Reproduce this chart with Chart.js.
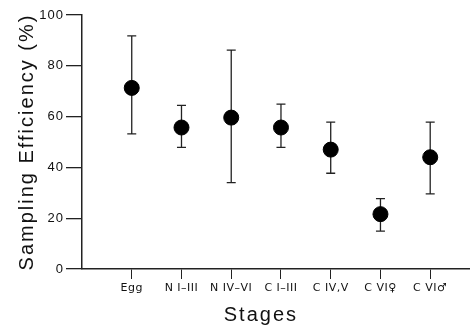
<!DOCTYPE html>
<html>
<head>
<meta charset="utf-8">
<script src="https://cdn.jsdelivr.net/npm/chart.js@4/dist/chart.umd.min.js"></script>
<style>
  html, body { margin: 0; padding: 0; background: #fff; }
  #wrap { width: 470px; height: 328px; }
</style>
</head>
<body>
<div id="wrap"><canvas id="c" width="470" height="328"></canvas></div>
<script>
// ---- Data ----
const categories = ['Egg', 'N I\u2013III', 'N IV\u2013VI', 'C I\u2013III', 'C IV,V', 'C VI\u2640', 'C VI\u2642'];
const efficiency = [71.3, 55.7, 59.6, 55.7, 47.0, 21.6, 44.0];
const upperBound = [91.8, 64.4, 86.2, 64.9, 57.8, 27.7, 57.8];
const lowerBound = [53.2, 47.9, 34.0, 47.9, 37.7, 14.9, 29.6];
const yTickValues = [0, 20, 40, 60, 80, 100];

const canvas = document.getElementById('c');
const ctx = canvas.getContext('2d');

// Wider letter spacing like the original typesetting
const origFillText = ctx.fillText;
ctx.fillText = function (t, x, y, m) {
  const size = parseFloat((this.font.match(/(\d+(\.\d+)?)px/) || [0, 12])[1]);
  this.letterSpacing = size >= 18 ? '2px' : (size >= 13 ? '1px' : '0.5px');
  return m === undefined ? origFillText.call(this, t, x, y) : origFillText.call(this, t, x, y, m);
};

const errorBars = {
  id: 'errorBars',
  beforeDatasetsDraw(chart) {
    const xs = chart.scales.x, ys = chart.scales.y;
    const c = chart.ctx;
    c.save();
    c.strokeStyle = '#222';
    c.lineWidth = 1.3;
    categories.forEach((_, i) => {
      const px = xs.getPixelForValue(i);
      const top = ys.getPixelForValue(upperBound[i]);
      const bot = ys.getPixelForValue(lowerBound[i]);
      c.beginPath();
      c.moveTo(px, top); c.lineTo(px, bot);
      c.moveTo(px - 4.5, top); c.lineTo(px + 4.5, top);
      c.moveTo(px - 4.5, bot); c.lineTo(px + 4.5, bot);
      c.stroke();
    });
    c.restore();
  }
};

new Chart(ctx, {
  type: 'scatter',
  data: {
    datasets: [{
      data: efficiency.map((v, i) => ({ x: i, y: v })),
      backgroundColor: '#000',
      borderColor: '#000',
      pointRadius: 7.5,
      pointHoverRadius: 7.5,
      showLine: false
    }]
  },
  options: {
    responsive: false,
    devicePixelRatio: 1,
    animation: false,
    events: [],
    layout: { autoPadding: false, padding: { top: 15, right: 0, left: 0, bottom: 0 } },
    plugins: { legend: { display: false }, tooltip: { enabled: false } },
    scales: {
      x: {
        type: 'linear',
        min: -1,
        max: 6.8,
        afterBuildTicks(scale) { scale.ticks = categories.map((_, i) => ({ value: i })); },
        afterFit(scale) { scale.height = 59; scale.paddingLeft = 0; scale.paddingRight = 0; },
        grid: { display: true, drawOnChartArea: false, drawTicks: true, tickLength: 10, color: '#222', lineWidth: 1 },
        border: { display: true, color: '#222', width: 1.5 },
        ticks: {
          autoSkip: false, maxRotation: 0, minRotation: 0, padding: 3,
          color: '#111',
          font: { family: '"DejaVu Sans", sans-serif', size: 11 },
          callback: (v) => categories[v] !== undefined ? categories[v] : ''
        },
        title: {
          display: true, text: 'Stages    ', color: '#111',
          font: { family: '"Liberation Sans", Arial, sans-serif', size: 20 },
          padding: { top: 0, bottom: 1 }
        }
      },
      y: {
        min: 0,
        max: 100,
        afterBuildTicks(scale) { scale.ticks = yTickValues.map(v => ({ value: v })); },
        afterFit(scale) { scale.width = 82; },
        grid: { display: true, drawOnChartArea: false, drawTicks: true, tickLength: 16, color: '#222', lineWidth: 1.3 },
        border: { display: true, color: '#222', width: 1.5 },
        ticks: {
          padding: 2, color: '#111',
          font: { family: '"Liberation Sans", Arial, sans-serif', size: 13 }
        },
        title: {
          display: true, text: 'Sampling Efficiency (%)', color: '#111',
          font: { family: '"Liberation Sans", Arial, sans-serif', size: 20 },
          padding: { top: 15, bottom: 0 }
        }
      }
    }
  },
  plugins: [errorBars]
});
</script>
</body>
</html>
